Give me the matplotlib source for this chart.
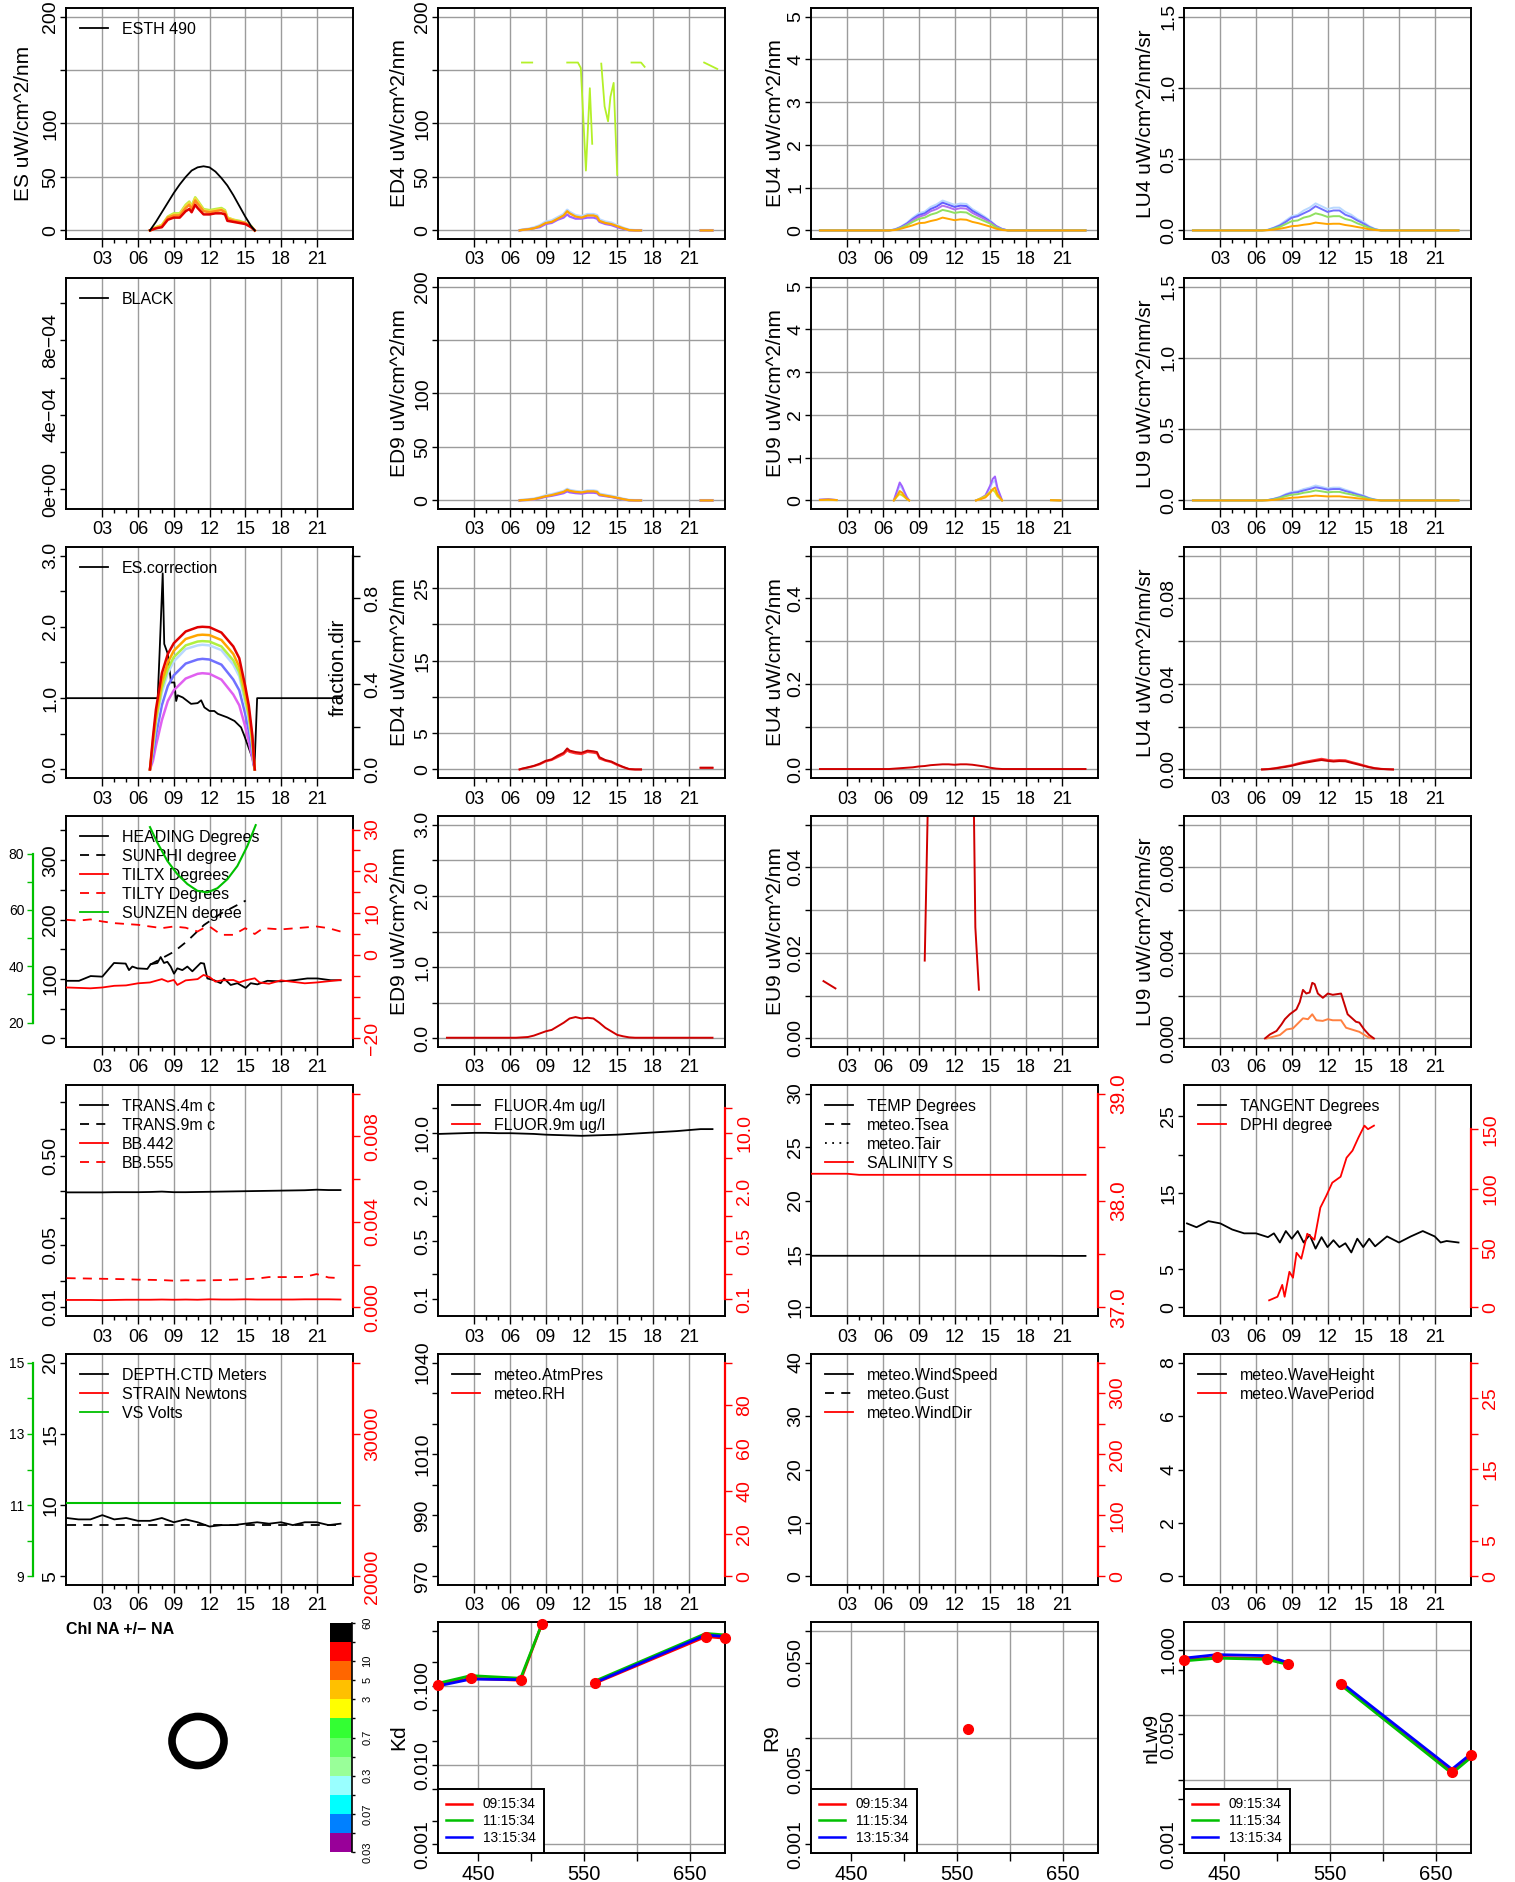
import numpy as np
import matplotlib
matplotlib.use("Agg")
import matplotlib.pyplot as plt
from matplotlib.lines import Line2D
from matplotlib.patches import Ellipse
from matplotlib.ticker import NullLocator

plt.rcParams['font.family'] = ['Liberation Sans', 'DejaVu Sans']
nan = np.nan

# ======================= DATA =======================
# ---- row 1 : ES / ED4 / EU4 / LU4
t_es = [7.0, 7.5, 8.0, 8.5, 9.0, 9.5, 10.0, 10.3, 10.5, 10.8, 11.0, 11.5, 12.0, 12.5, 13.0, 13.3, 13.5, 14.0, 14.5, 15.0, 15.5, 15.8]
es_red = [0, 2, 3, 10, 12, 12, 18, 20, 17, 24, 21, 15, 15, 16, 16, 15, 9, 8, 7, 6, 3, 0]
es_orange = [0, 2, 4, 12, 14, 14, 21, 24, 20, 28, 25, 18, 17, 18, 19, 17, 11, 9, 8, 7, 3, 0]
es_yellow = [0, 3, 5, 12, 15, 15, 23, 26, 22, 30, 27, 19, 18, 19, 20, 18, 12, 10, 8, 7, 4, 0]
es_ygreen = [0, 3, 5, 13, 16, 16, 24, 27, 23, 31, 28, 20, 19, 20, 21, 19, 12, 10, 9, 7, 4, 0]
t_esth = [7.0, 7.5, 8.0, 8.5, 9.0, 9.5, 10.0, 10.5, 11.0, 11.5, 12.0, 12.5, 13.0, 13.5, 14.0, 14.5, 15.0, 15.5, 15.8]
esth_490 = [0, 8, 17, 26, 35, 43, 50, 56, 59, 60, 59, 55, 49, 42, 33, 23, 13, 4, 0]

t_ed = [6.8, 7.0, 7.5, 8.0, 8.5, 9.0, 9.5, 10.0, 10.5, 10.8, 11.0, 11.5, 12.0, 12.5, 13.0, 13.3, 13.5, 14.0, 14.5, 15.0, 15.5, 16.0, 16.5, 17.0, nan, 22.0, 23.0]
ed4_lblue = [0, 0.6, 1.2, 2.5, 4.5, 8, 9, 12, 15, 19, 17, 14, 13, 15, 15, 14, 10, 8, 7, 4.5, 2.2, 0.4, 0, 0, nan, 0, 0]
ed4_purple = [0, 0.4, 1, 2, 3, 6, 7, 10, 12, 15, 13, 11, 11, 12, 12, 11, 8, 6, 5, 3, 1.5, 0.2, 0, 0, nan, 0, 0]
ed4_orange = [0, 0.5, 1, 2, 4, 7, 8, 11, 14, 18, 16, 13, 12, 14, 14, 13, 9, 7, 6, 4, 2, 0.3, 0, 0, nan, 0, 0]
t_ed4_sat = [7.0, 7.86, nan, 10.8, 11.7, 11.94, 12.37, 12.7, 12.9, nan, 13.66, 13.94, 14.23, 14.43, 14.7, 15.0, nan, 16.2, 17.0, 17.3, nan, 22.3, 23.4]
ed4_sat = [157, 157, nan, 157, 157, 152, 56, 133, 81, nan, 156, 116, 102, 125, 138, 52, nan, 157, 157, 153, nan, 157, 151]

t_eu = [0.7, 6.5, 7.0, 7.5, 8.0, 8.5, 9.0, 9.5, 10.0, 10.5, 11.0, 11.5, 12.0, 12.5, 13.0, 13.5, 14.0, 14.5, 15.0, 15.5, 16.0, 16.5, 23.0]
eu4_lblue = [0, 0, 0.03, 0.09, 0.18, 0.30, 0.40, 0.44, 0.55, 0.61, 0.70, 0.65, 0.60, 0.63, 0.62, 0.50, 0.42, 0.33, 0.23, 0.11, 0.04, 0, 0]
eu4_blue = [0, 0, 0.02, 0.08, 0.16, 0.27, 0.36, 0.40, 0.50, 0.56, 0.65, 0.60, 0.55, 0.58, 0.57, 0.46, 0.38, 0.30, 0.21, 0.10, 0.03, 0, 0]
eu4_violet = [0, 0, 0.02, 0.07, 0.14, 0.24, 0.32, 0.36, 0.45, 0.50, 0.58, 0.54, 0.49, 0.52, 0.51, 0.41, 0.34, 0.27, 0.19, 0.09, 0.03, 0, 0]
eu4_green = [0, 0, 0.015, 0.06, 0.12, 0.20, 0.27, 0.30, 0.37, 0.41, 0.48, 0.45, 0.41, 0.43, 0.42, 0.34, 0.28, 0.22, 0.16, 0.07, 0.02, 0, 0]
eu4_orange = [0, 0, 0.01, 0.04, 0.08, 0.12, 0.17, 0.18, 0.22, 0.25, 0.30, 0.27, 0.24, 0.26, 0.25, 0.20, 0.17, 0.13, 0.09, 0.04, 0.01, 0, 0]

lu4_lblue = [0, 0, 0.005, 0.02, 0.04, 0.07, 0.10, 0.11, 0.14, 0.16, 0.19, 0.17, 0.15, 0.16, 0.16, 0.13, 0.11, 0.08, 0.06, 0.03, 0.01, 0, 0]
lu4_blue = [0, 0, 0.004, 0.018, 0.035, 0.06, 0.09, 0.10, 0.12, 0.14, 0.17, 0.15, 0.13, 0.14, 0.14, 0.11, 0.095, 0.07, 0.05, 0.025, 0.008, 0, 0]
lu4_green = [0, 0, 0.003, 0.013, 0.025, 0.045, 0.065, 0.07, 0.09, 0.10, 0.12, 0.11, 0.095, 0.10, 0.10, 0.08, 0.07, 0.05, 0.035, 0.018, 0.006, 0, 0]
lu4_orange = [0, 0, 0.002, 0.006, 0.012, 0.02, 0.03, 0.033, 0.04, 0.045, 0.055, 0.05, 0.045, 0.047, 0.047, 0.038, 0.032, 0.024, 0.017, 0.008, 0.003, 0, 0]

# ---- row 2 : BLACK / ED9 / EU9 / LU9
ed9_lblue = [0, 0.3, 0.7, 1.4, 2.7, 4.5, 5.5, 7, 8.5, 10.5, 9.5, 8.5, 8, 9, 9, 8.5, 6, 5, 4, 2.7, 1.3, 0.2, 0, 0, nan, 0, 0]
ed9_purple = [0, 0.2, 0.5, 1, 2, 3.5, 4.3, 5.5, 6.8, 8.5, 7.6, 6.8, 6.4, 7.2, 7.2, 6.8, 4.8, 4, 3.2, 2.1, 1, 0.1, 0, 0, nan, 0, 0]
ed9_orange = [0, 0.3, 0.6, 1.2, 2.5, 4, 5, 6.5, 8, 10, 9, 8, 7.5, 8.5, 8.5, 8, 5.5, 4.5, 3.5, 2.5, 1.2, 0.2, 0, 0, nan, 0, 0]

t_eu9 = [0.7, 1.4, 2.1, nan, 6.9, 7.2, 7.4, 7.6, 7.8, 8.0, 8.2, nan, 13.8, 14.2, 14.6, 15.0, 15.2, 15.4, 15.6, 16.0, nan, 20.1, 20.9]
eu9_purple = [0.02, 0.03, 0.01, nan, 0, 0.25, 0.42, 0.33, 0.2, 0.08, 0, nan, 0, 0.05, 0.12, 0.35, 0.5, 0.56, 0.3, 0, nan, 0.01, 0.0]
eu9_lblue = [0.015, 0.025, 0.01, nan, 0, 0.2, 0.35, 0.28, 0.16, 0.06, 0, nan, 0, 0.04, 0.1, 0.3, 0.42, 0.47, 0.25, 0, nan, 0.01, 0]
eu9_orange = [0.01, 0.02, 0.01, nan, 0, 0.12, 0.22, 0.18, 0.1, 0.04, 0, nan, 0, 0.03, 0.07, 0.18, 0.26, 0.3, 0.15, 0, nan, 0.005, 0]
eu9_yellow = [0.01, 0.015, 0.005, nan, 0, 0.1, 0.15, 0.12, 0.08, 0.03, 0, nan, 0, 0.05, 0.1, 0.2, 0.25, 0.2, 0.1, 0, nan, 0.005, 0]

lu9_lblue = [0, 0, 0.003, 0.012, 0.025, 0.045, 0.06, 0.065, 0.08, 0.09, 0.105, 0.095, 0.085, 0.09, 0.09, 0.075, 0.062, 0.047, 0.035, 0.017, 0.006, 0, 0]
lu9_blue = [0, 0, 0.003, 0.011, 0.022, 0.04, 0.053, 0.058, 0.07, 0.08, 0.092, 0.085, 0.076, 0.08, 0.08, 0.066, 0.055, 0.042, 0.031, 0.015, 0.005, 0, 0]
lu9_green = [0, 0, 0.002, 0.008, 0.017, 0.03, 0.04, 0.044, 0.054, 0.06, 0.07, 0.064, 0.057, 0.06, 0.06, 0.05, 0.042, 0.032, 0.023, 0.011, 0.004, 0, 0]
lu9_orange = [0, 0, 0.001, 0.004, 0.008, 0.014, 0.019, 0.021, 0.026, 0.029, 0.034, 0.031, 0.028, 0.029, 0.029, 0.024, 0.02, 0.015, 0.011, 0.005, 0.002, 0, 0]

# ---- row 3 : ES.correction + fraction.dir / ED4 / EU4 / LU4 (red bands)
t_escor = [0.0, 7.65, 7.8, 8.07, 8.2, 8.5, 8.77, 9.05, 9.2, 9.33, 9.75, 10.45, 11.0, 11.3, 11.57, 12.0, 12.4, 12.7, 13.5, 14.1, 14.65, 14.93, 15.6, 15.77, 16.0, 23.0]
es_correction = [1.0, 1.0, 1.6, 2.75, 1.76, 1.62, 1.22, 1.22, 0.96, 1.04, 1.01, 0.92, 0.93, 0.97, 0.87, 0.82, 0.82, 0.78, 0.73, 0.68, 0.59, 0.47, 0.16, 0.0, 1.0, 1.0]
t_frac = [7.0, 7.25, 7.5, 8.0, 8.5, 9.0, 10.0, 11.0, 11.4, 12.0, 13.0, 14.0, 14.5, 15.0, 15.3, 15.6, 15.8]
frac_red = [0, 0.15, 0.28, 0.45, 0.54, 0.59, 0.645, 0.665, 0.667, 0.665, 0.64, 0.575, 0.52, 0.39, 0.30, 0.16, 0]
frac_orange = [0, 0.13, 0.25, 0.41, 0.50, 0.555, 0.61, 0.628, 0.63, 0.628, 0.605, 0.54, 0.48, 0.36, 0.27, 0.14, 0]
frac_ygreen = [0, 0.11, 0.23, 0.38, 0.47, 0.525, 0.58, 0.598, 0.60, 0.598, 0.575, 0.51, 0.455, 0.33, 0.25, 0.12, 0]
frac_lblue = [0, 0.10, 0.21, 0.36, 0.45, 0.505, 0.563, 0.58, 0.583, 0.58, 0.558, 0.49, 0.435, 0.31, 0.23, 0.11, 0]
frac_blue = [0, 0.07, 0.16, 0.30, 0.39, 0.44, 0.495, 0.514, 0.517, 0.514, 0.49, 0.42, 0.37, 0.26, 0.18, 0.08, 0]
frac_violet = [0, 0.04, 0.11, 0.23, 0.32, 0.37, 0.425, 0.447, 0.45, 0.447, 0.42, 0.35, 0.30, 0.20, 0.13, 0.05, 0]

ed4r_dark = [0, 0.1, 0.3, 0.5, 0.8, 1.2, 1.4, 1.9, 2.3, 2.9, 2.6, 2.4, 2.3, 2.6, 2.5, 2.4, 1.7, 1.3, 1.1, 0.7, 0.35, 0.05, 0, 0, nan, 0.25, 0.25]
ed4r_red = [0, 0.1, 0.25, 0.45, 0.7, 1.1, 1.3, 1.7, 2.1, 2.6, 2.4, 2.2, 2.1, 2.4, 2.3, 2.2, 1.5, 1.2, 1.0, 0.6, 0.3, 0.05, 0, 0, nan, 0.2, 0.2]
eu4r = [0.001, 0.001, 0.002, 0.003, 0.004, 0.005, 0.007, 0.008, 0.010, 0.011, 0.012, 0.012, 0.011, 0.012, 0.012, 0.011, 0.009, 0.007, 0.004, 0.002, 0.001, 0.001, 0.001]
t_lu4r = [6.5, 7.0, 7.5, 8.0, 8.5, 9.0, 9.5, 10.0, 10.5, 11.0, 11.5, 12.0, 12.5, 13.0, 13.5, 14.0, 14.5, 15.0, 15.5, 16.0, 16.5, 17.0, 17.5]
lu4r_red = [0, 0.0002, 0.0005, 0.001, 0.0015, 0.002, 0.0028, 0.0035, 0.004, 0.0045, 0.005, 0.0045, 0.0042, 0.0044, 0.0043, 0.0035, 0.0028, 0.002, 0.0012, 0.0006, 0.0003, 0.0001, 0]
lu4r_dark = [0, 0.0001, 0.0004, 0.0008, 0.0012, 0.0017, 0.0024, 0.003, 0.0035, 0.004, 0.0044, 0.004, 0.0037, 0.0039, 0.0038, 0.0031, 0.0024, 0.0017, 0.001, 0.0005, 0.0002, 0.0001, 0]

# ---- row 4 : heading / tilt / sun + ED9 / EU9 / LU9 (red bands)
t_heading = [0.0, 1.04, 2.02, 3.0, 3.98, 4.96, 5.24, 5.52, 5.94, 6.78, 7.06, 7.62, 7.9, 8.18, 8.46, 8.74, 9.02, 9.3, 9.72, 10.14, 10.56, 11.26, 11.54, 11.82, 12.38, 12.94, 13.22, 13.78, 14.34, 15.04, 15.46, 16.02, 16.58, 16.86, 17.98, 19.1, 20.22, 21.06, 22.18, 23.0]
heading = [97, 97, 105, 104, 127, 126, 115, 121, 118, 117, 125, 127, 137, 127, 129, 121, 109, 118, 115, 121, 113, 127, 126, 101, 98, 93, 101, 90, 93, 85, 93, 91, 95, 97, 96, 98, 101, 101, 98, 98]
t_sunphi = [7.0, 9.02, 10.14, 11.54, 12.94, 15.04]
sunphi = [124, 146, 164, 191, 210, 232]
t_sunzen = [7.0, 7.62, 8.46, 9.3, 10.14, 10.98, 11.82, 12.66, 13.5, 14.34, 15.18, 15.88]
sunzen = [89.4, 83.9, 77.4, 72.7, 69.2, 66.8, 66.2, 67.7, 70.9, 75.6, 82.7, 90.1]
t_tiltx = [0, 2, 3, 4, 5, 6, 7, 8, 8.5, 9, 9.3, 10, 11, 11.5, 12, 12.5, 13, 14, 14.5, 15, 15.8, 16.2, 17, 18, 20, 21, 23]
tiltx = [-7.8, -8.0, -7.8, -7.4, -7.3, -6.8, -6.6, -5.8, -6.4, -6.0, -7.2, -6.1, -5.8, -4.8, -5.3, -6.4, -6.1, -6.0, -6.6, -6.1, -5.6, -6.6, -6.9, -6.1, -6.8, -6.6, -6.0]
t_tilty = [0, 1, 2, 3, 4, 5, 6, 7, 8, 9, 10, 11, 11.5, 12, 13, 14, 15, 15.8, 16.5, 18, 21, 22, 23]
tilty = [8.4, 8.2, 8.5, 8.0, 7.6, 7.4, 7.2, 6.8, 6.4, 6.8, 6.5, 5.6, 6.4, 6.8, 4.8, 4.8, 6.4, 5.0, 6.4, 6.1, 6.8, 6.4, 5.6]

ed9r = [0.01, 0.01, 0.015, 0.02, 0.04, 0.07, 0.1, 0.12, 0.17, 0.22, 0.28, 0.3, 0.28, 0.29, 0.28, 0.22, 0.15, 0.1, 0.05, 0.03, 0.015, 0.01, 0.01]
t_eu9r = [1.0, 2.0, nan, 9.5, 9.8, nan, 13.6, 13.75, 14.05]
eu9r = [0.0134, 0.0117, nan, 0.0182, 0.06, nan, 0.06, 0.026, 0.0114]
t_lu9_dark = [6.75, 7.17, 7.72, 8.14, 8.42, 8.83, 9.39, 9.67, 9.94, 10.22, 10.5, 10.72, 10.92, 11.19, 11.61, 12.03, 12.44, 13.14, 13.69, 14.39, 14.67, 15.08, 15.5, 15.9]
lu9_dark = [0, 0.00019, 0.00035, 0.00066, 0.0009, 0.00113, 0.00136, 0.0017, 0.00227, 0.0021, 0.00215, 0.0026, 0.00254, 0.0021, 0.0019, 0.0021, 0.00204, 0.0021, 0.00113, 0.00078, 0.00074, 0.00042, 0.00016, 0]
t_lu9_light = [6.9, 8.0, 8.56, 9.1, 9.94, 10.36, 10.72, 11.06, 11.6, 12.03, 12.44, 13.14, 13.56, 14.67, 15.5, 15.78]
lu9_light = [0, 0.00016, 0.00042, 0.00047, 0.00094, 0.0009, 0.00113, 0.00085, 0.00082, 0.0009, 0.00085, 0.00085, 0.0005, 0.00031, 0.00003, 0]

# ---- row 5 : optics / fluor / temp / tangent
t_hour = [0, 1, 2, 3, 4, 5, 6, 7, 8, 9, 10, 11, 12, 13, 14, 15, 16, 17, 18, 19, 20, 21, 22, 23]
trans4 = [0.195, 0.195, 0.195, 0.195, 0.196, 0.196, 0.196, 0.197, 0.199, 0.196, 0.196, 0.197, 0.198, 0.199, 0.200, 0.201, 0.202, 0.203, 0.204, 0.205, 0.206, 0.209, 0.207, 0.207]
bb442 = [0.00035, 0.00035, 0.00035, 0.00034, 0.00035, 0.00036, 0.00036, 0.00036, 0.00037, 0.00036, 0.00037, 0.00036, 0.00038, 0.00037, 0.00037, 0.00038, 0.00037, 0.00037, 0.00037, 0.00037, 0.00038, 0.00038, 0.00038, 0.00037]
bb555 = [0.00137, 0.00136, 0.00135, 0.00134, 0.00133, 0.00132, 0.00130, 0.00129, 0.00128, 0.00125, 0.00127, 0.00126, 0.00127, 0.00128, 0.00130, 0.00132, 0.00135, 0.00142, 0.00142, 0.00142, 0.00143, 0.00156, 0.00140, 0.00137]
fluor4 = [9.8, 9.9, 10.0, 10.1, 10.1, 10.0, 10.0, 9.9, 9.8, 9.6, 9.5, 9.4, 9.3, 9.4, 9.5, 9.6, 9.8, 10.0, 10.2, 10.4, 10.6, 10.9, 11.2, 11.2]
temp = [14.83, 14.83, 14.83, 14.83, 14.83, 14.83, 14.83, 14.83, 14.83, 14.83, 14.83, 14.83, 14.83, 14.83, 14.83, 14.83, 14.83, 14.83, 14.83, 14.83, 14.83, 14.82, 14.82, 14.82]
salinity = [38.25, 38.25, 38.25, 38.25, 38.24, 38.24, 38.24, 38.24, 38.24, 38.24, 38.24, 38.24, 38.24, 38.24, 38.24, 38.24, 38.24, 38.24, 38.24, 38.24, 38.24, 38.24, 38.24, 38.24]
t_tangent = [0.2, 1.0, 2.0, 3.0, 4.0, 5.0, 6.0, 7.0, 7.5, 8.0, 8.5, 9.0, 9.5, 10.0, 10.5, 11.0, 11.5, 12.0, 12.5, 13.0, 13.5, 14.0, 14.5, 15.0, 15.5, 16.0, 17.0, 18.0, 19.0, 20.0, 21.0, 21.5, 22.0, 23.0]
tangent = [11.0, 10.5, 11.3, 11.0, 10.2, 9.7, 9.7, 9.2, 9.7, 8.5, 10.0, 9.0, 10.0, 8.5, 9.5, 7.7, 9.2, 7.9, 8.8, 7.9, 8.4, 7.2, 9.0, 7.9, 9.0, 8.0, 9.3, 8.5, 9.3, 10.0, 9.3, 8.5, 8.7, 8.5]
t_dphi = [7.1, 7.8, 8.2, 8.4, 8.8, 9.1, 9.4, 9.8, 10.3, 10.9, 11.4, 11.9, 12.4, 13.1, 13.6, 14.1, 14.6, 15.1, 15.4, 15.9]
dphi = [6, 9, 19, 9, 30, 25, 46, 41, 62, 57, 84, 94, 105, 110, 126, 132, 143, 153, 150, 153]

# ---- row 6 : depth / meteo
depth_ctd = [9.1, 9.0, 9.0, 9.3, 9.0, 9.1, 8.9, 8.9, 9.1, 8.8, 9.0, 8.8, 8.5, 8.6, 8.6, 8.7, 8.8, 8.7, 8.8, 8.6, 8.8, 8.8, 8.6, 8.7]
depth_b = [8.6, 8.6, 8.6, 8.6, 8.6, 8.6, 8.6, 8.6, 8.6, 8.6, 8.6, 8.6, 8.6, 8.6, 8.6, 8.6, 8.6, 8.6, 8.6, 8.6, 8.6, 8.6, 8.6, 8.6]
vs_volts = [11.07, 11.07, 11.07, 11.07, 11.07, 11.07, 11.07, 11.07, 11.07, 11.07, 11.07, 11.07, 11.07, 11.07, 11.07, 11.07, 11.07, 11.07, 11.07, 11.07, 11.07, 11.07, 11.07, 11.07]

# ---- row 7 : spectra
wavelength = [412, 443, 490, 510, 532, 560, 665, 683]
kd_0915 = [0.103, 0.125, 0.118, 0.60, nan, 0.108, 0.42, 0.40]
kd_1115 = [0.108, 0.135, 0.125, 0.60, nan, 0.115, 0.46, 0.44]
kd_1315 = [0.100, 0.122, 0.120, nan, nan, 0.110, 0.44, 0.42]
r9_0915 = [nan, nan, nan, nan, nan, 0.012, nan, nan]
nlw_0915 = [0.70, 0.77, 0.74, 0.61, nan, 0.30, 0.013, 0.024]
nlw_1115 = [0.68, 0.75, 0.72, 0.60, nan, 0.29, 0.0125, 0.022]
nlw_1315 = [0.75, 0.85, 0.82, 0.64, nan, 0.32, 0.0145, 0.025]
time_labels = ['09:15:34', '11:15:34', '13:15:34']

chl_colors = ['#990099', '#0080FF', '#00FFFF', '#99FFFF', '#99FF99', '#66FF66', '#33FF33', '#FFFF00', '#FFC000', '#FF6600', '#FF0000', '#000000']
chl_labels = ['0.03', '', '0.07', '', '0.3', '', '0.7', '', '3', '5', '10', '', '60']

HR_MAJOR = [3, 6, 9, 12, 15, 18, 21]
HR_LABELS = ['03', '06', '09', '12', '15', '18', '21']
HR_MINOR = [4, 5, 7, 8, 10, 11, 13, 14, 16, 17, 19, 20]

# ======================= STYLE / LAYOUT =======================
W, H = 1515, 1882
fig = plt.figure(figsize=(W / 100, H / 100), dpi=100)
COL_L = [66, 438, 811, 1184]
ROW_T = [8, 278, 547, 816, 1085, 1354, 1622]
AW, AH = 287, 231
GRID = '#9c9c9c'
GREEN = '#00C000'
RED = '#FF0000'
YT = 14
XT = 13
LW = 1.3


def base(r, c):
    ax = fig.add_axes([COL_L[c] / W, 1 - (ROW_T[r] + AH) / H, AW / W, AH / H])
    for s in ax.spines.values():
        s.set_linewidth(1.4)
    return ax


def time_x(ax):
    ax.set_xlim(-0.05, 24.05)
    ax.set_xticks(HR_MAJOR)
    ax.set_xticklabels(HR_LABELS, fontsize=XT)
    ax.set_xticks(HR_MINOR, minor=True)
    ax.tick_params(axis='x', which='major', length=6, width=1, pad=3)
    ax.tick_params(axis='x', which='minor', length=3, width=1)
    for h in HR_MAJOR:
        ax.axvline(h, color=GRID, lw=1.0, zorder=0.6)


def y_ax(ax, lim, ticks, labels, log=False, color='k', size=YT, hgrid=False, grid_at=None):
    if log:
        ax.set_yscale('log')
        a, b = np.log10(lim[0]), np.log10(lim[1])
        d = 0.04 * (b - a)
        ax.set_ylim(10 ** (a - d), 10 ** (b + d))
    else:
        d = 0.04 * (lim[1] - lim[0])
        ax.set_ylim(lim[0] - d, lim[1] + d)
    ax.set_yticks(ticks)
    ax.set_yticklabels(labels, rotation=90, va='center', fontsize=size, color=color)
    ax.yaxis.set_minor_locator(NullLocator())
    ax.tick_params(axis='y', which='major', length=4, width=1, color=color, pad=1)
    if hgrid:
        for y in (ticks if grid_at is None else grid_at):
            ax.axhline(y, color=GRID, lw=1.0, zorder=0.6)


def right_ax(ax, lim, ticks, labels, color=RED, log=False, size=YT):
    ax2 = ax.twinx()
    y_ax(ax2, lim, ticks, labels, log=log, color=color, size=size)
    for k in ['left', 'top', 'bottom']:
        ax2.spines[k].set_visible(False)
    ax2.spines['right'].set_color(color)
    ax2.spines['right'].set_linewidth(1.6)
    ax2.spines['right'].set_bounds(ticks[0], ticks[-1])
    ax2.tick_params(axis='y', length=5, pad=3)
    return ax2


def green_ax(ax, lim, ticks, labels):
    ax3 = ax.twinx()
    ax3.yaxis.tick_left()
    y_ax(ax3, lim, ticks, labels, color=GREEN)
    for k in ['right', 'top', 'bottom']:
        ax3.spines[k].set_visible(False)
    ax3.spines['left'].set_position(('outward', 24))
    ax3.spines['left'].set_color(GREEN)
    ax3.spines['left'].set_linewidth(1.6)
    ax3.spines['left'].set_bounds(ticks[0], ticks[-1])
    ax3.tick_params(axis='y', length=4, pad=2)
    return ax3


def ylab(ax, text, x=-0.105):
    ax.set_ylabel(text, fontsize=15)
    ax.yaxis.set_label_coords(x, 0.5)


def rlegend(ax, items, size=11.5):
    hs = [Line2D([], [], color=c, ls=ls, lw=LW) for (_, c, ls) in items]
    ax.legend(hs, [t for (t, _, _) in items], loc='upper left', frameon=False, fontsize=size,
              handlelength=1.8, handletextpad=0.85, labelspacing=0.25, borderaxespad=0.4, borderpad=0.45)


DASH = (0, (5, 4))
DOT = (0, (1, 3))

# ======================= ROW 1 =======================
ax = base(0, 0); time_x(ax)
y_ax(ax, (0, 200), [0, 50, 100, 150, 200], ['0', '50', '100', '', '200'], hgrid=True)
ylab(ax, 'ES uW/cm^2/nm', -0.115)
for v, c in [(es_ygreen, '#B8F040'), (es_yellow, '#F0E040'), (es_orange, '#FF8C20'), (es_red, '#E00000')]:
    ax.plot(t_es, v, color=c, lw=1.8)
ax.plot(t_esth, esth_490, color='k', lw=LW)
rlegend(ax, [('ESTH 490', 'k', '-')])

ax = base(0, 1); time_x(ax)
y_ax(ax, (0, 200), [0, 50, 100, 150, 200], ['0', '50', '100', '', '200'], hgrid=True)
ylab(ax, 'ED4 uW/cm^2/nm', -0.10)
ax.plot(t_ed4_sat, ed4_sat, color='#B4F028', lw=LW)
ax.plot(t_ed, ed4_lblue, color='#B8D8FF', lw=2.2)
ax.plot(t_ed, ed4_purple, color='#A060FF', lw=1.6)
ax.plot(t_ed, ed4_orange, color='#FFA500', lw=1.6)

ax = base(0, 2); time_x(ax)
y_ax(ax, (0, 5), [0, 1, 2, 3, 4, 5], ['0', '1', '2', '3', '4', '5'], hgrid=True)
ylab(ax, 'EU4 uW/cm^2/nm', -0.09)
for v, c in [(eu4_lblue, '#B8D8FF'), (eu4_blue, '#6060FF'), (eu4_violet, '#B070F0'), (eu4_green, '#90E060'), (eu4_orange, '#FFA500')]:
    ax.plot(t_eu, v, color=c, lw=1.4)

ax = base(0, 3); time_x(ax)
y_ax(ax, (0, 1.5), [0, 0.5, 1.0, 1.5], ['0.0', '0.5', '1.0', '1.5'], hgrid=True)
ylab(ax, 'LU4 uW/cm^2/nm/sr', -0.10)
for v, c in [(lu4_lblue, '#B8D8FF'), (lu4_blue, '#7070FF'), (lu4_green, '#90E060'), (lu4_orange, '#FFA500')]:
    ax.plot(t_eu, v, color=c, lw=1.4)

# ======================= ROW 2 =======================
ax = base(1, 0); time_x(ax)
y_ax(ax, (-0.00006, 0.00109), [0, 0.0002, 0.0004, 0.0006, 0.0008, 0.0010],
     ['0e+00', '', '4e\u221204', '', '8e\u221204', ''])
rlegend(ax, [('BLACK', 'k', '-')])

ax = base(1, 1); time_x(ax)
y_ax(ax, (0, 200), [0, 50, 100, 150, 200], ['0', '50', '100', '', '200'], hgrid=True)
ylab(ax, 'ED9 uW/cm^2/nm', -0.10)
ax.plot(t_ed, ed9_lblue, color='#B8D8FF', lw=2.2)
ax.plot(t_ed, ed9_purple, color='#A060FF', lw=1.6)
ax.plot(t_ed, ed9_orange, color='#FFA500', lw=1.6)

ax = base(1, 2); time_x(ax)
y_ax(ax, (0, 5), [0, 1, 2, 3, 4, 5], ['0', '1', '2', '3', '4', '5'], hgrid=True)
ylab(ax, 'EU9 uW/cm^2/nm', -0.09)
for v, c in [(eu9_lblue, '#B8D8FF'), (eu9_purple, '#A060FF'), (eu9_yellow, '#D8E020'), (eu9_orange, '#FFA500')]:
    ax.plot(t_eu9, v, color=c, lw=1.4)

ax = base(1, 3); time_x(ax)
y_ax(ax, (0, 1.5), [0, 0.5, 1.0, 1.5], ['0.0', '0.5', '1.0', '1.5'], hgrid=True)
ylab(ax, 'LU9 uW/cm^2/nm/sr', -0.10)
for v, c in [(lu9_lblue, '#B8D8FF'), (lu9_blue, '#7070FF'), (lu9_green, '#90E060'), (lu9_orange, '#FFA500')]:
    ax.plot(t_eu, v, color=c, lw=1.4)

# ======================= ROW 3 =======================
ax = base(2, 0); time_x(ax)
y_ax(ax, (0, 3), [0, 0.5, 1, 1.5, 2, 2.5, 3], ['0.0', '', '1.0', '', '2.0', '', '3.0'])
ax.plot(t_escor, es_correction, color='k', lw=LW)
rlegend(ax, [('ES.correction', 'k', '-')])
ax2 = right_ax(ax, (0, 1.0), [0, 0.2, 0.4, 0.6, 0.8, 1.0], ['0.0', '', '0.4', '', '0.8', ''], color='k')
for v, c in [(frac_violet, '#E060F0'), (frac_blue, '#7070FF'), (frac_lblue, '#B8D8FF'), (frac_ygreen, '#B0F040'), (frac_orange, '#FFA500'), (frac_red, '#E00000')]:
    ax2.plot(t_frac, v, color=c, lw=1.8)
ax.text(0.948, 0.478, 'fraction.dir', transform=ax.transAxes, rotation=90, ha='center', va='center', fontsize=15)

ax = base(2, 1); time_x(ax)
y_ax(ax, (0, 29.5), [0, 5, 10, 15, 20, 25], ['0', '5', '', '15', '', '25'], hgrid=True)
ylab(ax, 'ED4 uW/cm^2/nm', -0.10)
ax.plot(t_ed, ed4r_red, color='#FF3030', lw=1.4)
ax.plot(t_ed, ed4r_dark, color='#C80000', lw=1.4)

ax = base(2, 2); time_x(ax)
y_ax(ax, (0, 0.5), [0, 0.1, 0.2, 0.3, 0.4, 0.5], ['0.0', '', '0.2', '', '0.4', ''], hgrid=True)
ylab(ax, 'EU4 uW/cm^2/nm', -0.09)
ax.plot(t_eu, eu4r, color='#D00000', lw=1.4)

ax = base(2, 3); time_x(ax)
y_ax(ax, (0, 0.1), [0, 0.02, 0.04, 0.06, 0.08, 0.10], ['0.00', '', '0.04', '', '0.08', ''], hgrid=True)
ylab(ax, 'LU4 uW/cm^2/nm/sr', -0.10)
ax.plot(t_lu4r, lu4r_red, color='#FF3030', lw=1.4)
ax.plot(t_lu4r, lu4r_dark, color='#C80000', lw=1.4)

# ======================= ROW 4 =======================
ax = base(3, 0); time_x(ax)
y_ax(ax, (0, 360), [0, 50, 100, 150, 200, 250, 300, 350], ['0', '', '100', '', '200', '', '300', ''])
ax.plot(t_heading, heading, color='k', lw=LW)
ax.plot(t_sunphi, sunphi, color='k', lw=LW, ls=DASH)
rlegend(ax, [('HEADING Degrees', 'k', '-'), ('SUNPHI degree', 'k', DASH), ('TILTX Degrees', RED, '-'),
             ('TILTY Degrees', RED, DASH), ('SUNZEN degree', GREEN, '-')])
ax2 = right_ax(ax, (-20, 31.2), [-20, -15, -10, -5, 0, 5, 10, 15, 20, 25, 30],
               ['\u221220', '', '', '', '0', '', '10', '', '20', '', '30'])
ax2.plot(t_tiltx, tiltx, color=RED, lw=LW)
ax2.plot(t_tilty, tilty, color=RED, lw=LW, ls=DASH)
ax3 = green_ax(ax, (14.4, 90.3), [20, 30, 40, 50, 60, 70, 80], ['20', '', '40', '', '60', '', '80'])
ax3.plot(t_sunzen, sunzen, color=GREEN, lw=1.5)

ax = base(3, 1); time_x(ax)
y_ax(ax, (0, 3), [0, 0.5, 1, 1.5, 2, 2.5, 3], ['0.0', '', '1.0', '', '2.0', '', '3.0'], hgrid=True)
ylab(ax, 'ED9 uW/cm^2/nm', -0.10)
ax.plot(t_eu, ed9r, color='#D00000', lw=1.4)

ax = base(3, 2); time_x(ax)
y_ax(ax, (0, 0.05), [0, 0.01, 0.02, 0.03, 0.04, 0.05], ['0.00', '', '0.02', '', '0.04', ''], hgrid=True)
ylab(ax, 'EU9 uW/cm^2/nm', -0.09)
ax.plot(t_eu9r, eu9r, color='#D00000', lw=1.4)

ax = base(3, 3); time_x(ax)
y_ax(ax, (0, 0.01), [0, 0.002, 0.004, 0.006, 0.008, 0.010], ['0.000', '', '0.004', '', '0.008', ''], hgrid=True)
ylab(ax, 'LU9 uW/cm^2/nm/sr', -0.10)
ax.plot(t_lu9_light, lu9_light, color='#FF8040', lw=1.4)
ax.plot(t_lu9_dark, lu9_dark, color='#C80000', lw=1.4)

# ======================= ROW 5 =======================
ax = base(4, 0); time_x(ax)
y_ax(ax, (0.01, 2.5), [0.01, 0.02, 0.05, 0.1, 0.2, 0.5, 1, 2], ['0.01', '', '0.05', '', '', '0.50', '', ''], log=True)
ax.plot(t_hour, trans4, color='k', lw=LW)
rlegend(ax, [('TRANS.4m c', 'k', '-'), ('TRANS.9m c', 'k', DASH), ('BB.442', RED, '-'), ('BB.555', RED, DASH)])
ax2 = right_ax(ax, (0, 0.01), [0, 0.002, 0.004, 0.006, 0.008, 0.010], ['0.000', '', '0.004', '', '0.008', ''])
ax2.plot(t_hour, bb442, color=RED, lw=LW)
ax2.plot(t_hour, bb555, color=RED, lw=LW, ls=DASH)

ax = base(4, 1); time_x(ax)
fl_ticks = [0.1, 0.2, 0.5, 1, 2, 5, 10, 20]
fl_labels = ['0.1', '', '0.5', '', '2.0', '', '10.0', '']
y_ax(ax, (0.08, 30), fl_ticks, fl_labels, log=True)
ax.plot(t_hour, fluor4, color='k', lw=LW)
rlegend(ax, [('FLUOR.4m ug/l', 'k', '-'), ('FLUOR.9m ug/l', RED, '-')])
ax2 = right_ax(ax, (0.08, 30), fl_ticks, fl_labels, log=True)

ax = base(4, 2); time_x(ax)
y_ax(ax, (10, 30), [10, 15, 20, 25, 30], ['10', '15', '20', '25', '30'])
ax.plot(t_hour, temp, color='k', lw=LW)
rlegend(ax, [('TEMP Degrees', 'k', '-'), ('meteo.Tsea', 'k', DASH), ('meteo.Tair', 'k', DOT), ('SALINITY S', RED, '-')])
ax2 = right_ax(ax, (37, 39), [37, 37.5, 38, 38.5, 39], ['37.0', '', '38.0', '', '39.0'], size=15)
ax2.plot(t_hour, salinity, color=RED, lw=LW)

ax = base(4, 3); time_x(ax)
y_ax(ax, (0, 28), [0, 5, 10, 15, 20, 25], ['0', '5', '', '15', '', '25'])
ax.plot(t_tangent, tangent, color='k', lw=LW)
rlegend(ax, [('TANGENT Degrees', 'k', '-'), ('DPHI degree', RED, '-')])
ax2 = right_ax(ax, (0, 180), [0, 50, 100, 150], ['0', '50', '100', '150'])
ax2.plot(t_dphi, dphi, color=RED, lw=LW)

# ======================= ROW 6 =======================
ax = base(5, 0); time_x(ax)
y_ax(ax, (5, 20), [5, 10, 15, 20], ['5', '10', '15', '20'])
ax.plot(t_hour, depth_ctd, color='k', lw=LW)
ax.plot(t_hour, depth_b, color='k', lw=LW, ls=DASH)
rlegend(ax, [('DEPTH.CTD Meters', 'k', '-'), ('STRAIN Newtons', RED, '-'), ('VS Volts', GREEN, '-')])
ax2 = right_ax(ax, (20000, 35000), [20000, 25000, 30000, 35000], ['20000', '', '30000', ''])
ax3 = green_ax(ax, (9, 15), [9, 10, 11, 12, 13, 14, 15], ['9', '', '11', '', '13', '', '15'])
ax3.plot(t_hour, vs_volts, color=GREEN, lw=1.5)

ax = base(5, 1); time_x(ax)
y_ax(ax, (970, 1040), [970, 980, 990, 1000, 1010, 1020, 1030, 1040], ['970', '', '990', '', '1010', '', '', '1040'])
rlegend(ax, [('meteo.AtmPres', 'k', '-'), ('meteo.RH', RED, '-')])
right_ax(ax, (0, 100), [0, 20, 40, 60, 80, 100], ['0', '20', '40', '60', '80', ''])

ax = base(5, 2); time_x(ax)
y_ax(ax, (0, 40), [0, 10, 20, 30, 40], ['0', '10', '20', '30', '40'])
rlegend(ax, [('meteo.WindSpeed', 'k', '-'), ('meteo.Gust', 'k', DASH), ('meteo.WindDir', RED, '-')])
right_ax(ax, (0, 350), [0, 50, 100, 150, 200, 250, 300, 350], ['0', '', '100', '', '200', '', '300', ''])

ax = base(5, 3); time_x(ax)
y_ax(ax, (0, 8), [0, 2, 4, 6, 8], ['0', '2', '4', '6', '8'])
rlegend(ax, [('meteo.WaveHeight', 'k', '-'), ('meteo.WavePeriod', RED, '-')])
right_ax(ax, (0, 30), [0, 5, 10, 15, 20, 25, 30], ['0', '5', '', '15', '', '25', ''])

# ======================= ROW 7 =======================
fig.text(66 / W, 1 - 1622 / H, 'Chl NA +/\u2212 NA', ha='left', va='top', fontsize=11.5, fontweight='bold')
axc = fig.add_axes([66 / W, 1 - 1852 / H, 286 / W, 230 / H])
axc.set_xlim(0, 286); axc.set_ylim(0, 230); axc.axis('off')
axc.add_patch(Ellipse((198 - 66, 1852 - 1741), 52, 49, fill=False, lw=5.5, ec='k'))

axb = fig.add_axes([330 / W, 1 - 1852 / H, 22 / W, 229 / H])
for i, c in enumerate(chl_colors):
    axb.bar(0.5, 1, bottom=i, width=1, color=c, edgecolor='none')
axb.set_xlim(0, 1); axb.set_ylim(0, len(chl_colors))
axb.set_xticks([])
axb.yaxis.tick_right()
axb.set_yticks(range(len(chl_labels)))
axb.set_yticklabels(chl_labels, rotation=90, va='center', fontsize=8)
axb.tick_params(axis='y', length=2.5, width=1, pad=5)
for k in ['left', 'top', 'bottom']:
    axb.spines[k].set_visible(False)
axb.spines['right'].set_linewidth(1.2)

WL_TICKS = [450, 500, 550, 600, 650]
WL_LABELS = ['450', '', '550', '', '650']


def spec_ax(c, lim, ticks, labels, label, lx):
    ax = base(6, c)
    ax.set_xlim(412, 683)
    ax.set_xticks(WL_TICKS)
    ax.set_xticklabels(WL_LABELS, fontsize=14.5)
    ax.tick_params(axis='x', length=6, width=1, pad=3)
    for x in WL_TICKS:
        ax.axvline(x, color=GRID, lw=1.0, zorder=0.6)
    dec = [d for d in [0.001, 0.01, 0.1, 1.0] if lim[0] <= d <= lim[1] * 1.5]
    y_ax(ax, lim, ticks, labels, log=True, size=14, hgrid=True, grid_at=dec)
    ax.set_ylabel(label, fontsize=15)
    ax.yaxis.set_label_coords(lx, 0.5)
    return ax


def spec_legend(ax):
    hs = [Line2D([], [], color=c, lw=1.8) for c in ['#FF0000', '#00C000', '#0000FF']]
    leg = ax.legend(hs, time_labels, loc='lower left', fontsize=9.8, frameon=True, fancybox=False,
                    edgecolor='k', framealpha=1, borderaxespad=0, handlelength=1.9, handletextpad=0.8,
                    labelspacing=0.2, borderpad=0.6)
    leg.get_frame().set_linewidth(1.4)


ax = spec_ax(1, (0.001, 0.5), [0.001, 0.002, 0.005, 0.01, 0.02, 0.05, 0.1, 0.2, 0.5],
             ['0.001', '', '', '0.010', '', '', '0.100', '', ''], 'Kd', -0.105)
ax.plot(wavelength, kd_0915, color='#FF0000', lw=2)
ax.plot(wavelength, kd_1115, color='#00C000', lw=2)
ax.plot(wavelength, kd_1315, color='#0000FF', lw=2)
ax.plot(wavelength, kd_0915, ls='none', marker='o', ms=7, color='#FF0000', clip_on=False, zorder=5)
spec_legend(ax)

ax = spec_ax(2, (0.001, 0.1), [0.001, 0.005, 0.01, 0.05, 0.1],
             ['0.001', '0.005', '', '0.050', ''], 'R9', -0.105)
ax.plot(wavelength, r9_0915, ls='none', marker='o', ms=7, color='#FF0000', zorder=5)
spec_legend(ax)

ax = spec_ax(3, (0.001, 2.0), [0.001, 0.005, 0.01, 0.05, 0.1, 0.5, 1.0],
             ['0.001', '', '', '0.050', '', '', '1.000'], 'nLw9', -0.08)
ax.plot(wavelength, nlw_0915, color='#FF0000', lw=2)
ax.plot(wavelength, nlw_1115, color='#00C000', lw=2)
ax.plot(wavelength, nlw_1315, color='#0000FF', lw=2)
ax.plot(wavelength, nlw_0915, ls='none', marker='o', ms=7, color='#FF0000', clip_on=False, zorder=5)
spec_legend(ax)

fig.savefig('out.png', dpi=100)
